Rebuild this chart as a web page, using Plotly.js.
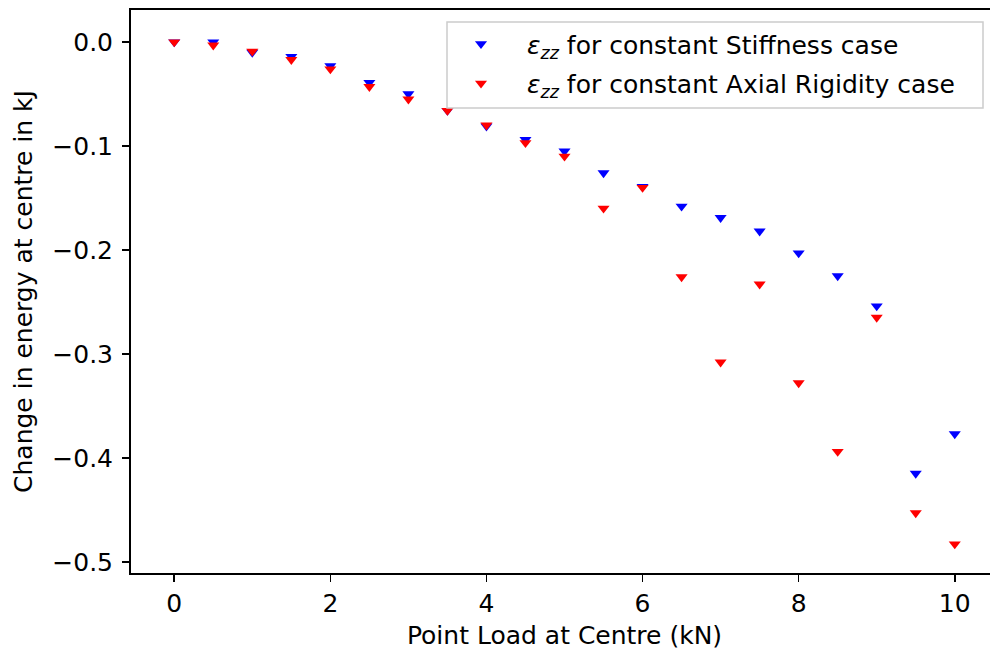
<!DOCTYPE html>
<html>
<head>
<meta charset="utf-8">
<script src="https://cdn.plot.ly/plotly-3.0.1.min.js"></script>
<style>
html, body { margin: 0; padding: 0; overflow: hidden; background: #ffffff; }
#chart { width: 1000px; height: 655px; }
</style>
</head>
<body>
<div id="chart"></div>
<script>
// Point load at centre (kN)
var loadKN = [0, 0.5, 1, 1.5, 2, 2.5, 3, 3.5, 4, 4.5, 5, 5.5, 6, 6.5, 7, 7.5, 8, 8.5, 9, 9.5, 10];
// Change in energy (kJ), constant stiffness case
var stiffnessCase = [0.000, 0.000, -0.010, -0.014, -0.023, -0.039, -0.050, -0.066, -0.081, -0.094, -0.105,
                     -0.126, -0.139, -0.158, -0.169, -0.182, -0.203, -0.225, -0.254, -0.415, -0.377];
// Change in energy (kJ), constant axial rigidity case
var axialCase = [0.000, -0.003, -0.009, -0.017, -0.026, -0.043, -0.055, -0.066, -0.080, -0.097, -0.110,
                 -0.160, -0.140, -0.226, -0.308, -0.233, -0.328, -0.394, -0.265, -0.453, -0.483];

var seriesNames = [
  '<i>ε</i><sub><i>zz</i></sub> for constant Stiffness case',
  '<i>ε</i><sub><i>zz</i></sub> for constant Axial Rigidity case'
];

var FONT = 'DejaVu Sans, sans-serif';
var FS = 25;

// plot area in px: x 131..998, y 10..572.7
function px2x(p) { return (p - 131) / 867; }
function py2y(p) { return 1 - (p - 10) / 562.7; }

var traces = [
  {
    x: loadKN, y: stiffnessCase, type: 'scatter', mode: 'markers',
    name: seriesNames[0], legendgroup: 'a',
    marker: { symbol: 'triangle-down', size: 10.5, color: '#0000ff', line: { width: 0 } }
  },
  {
    x: loadKN, y: axialCase, type: 'scatter', mode: 'markers',
    name: seriesNames[1], legendgroup: 'b',
    marker: { symbol: 'triangle-down', size: 10.5, color: '#ff0000', line: { width: 0 } }
  }
];

var layout = {
  width: 1000, height: 655,
  margin: { l: 131, r: 2, t: 10, b: 82.3, pad: 0 },
  paper_bgcolor: '#ffffff', plot_bgcolor: '#ffffff',
  font: { family: FONT, size: FS, color: '#000000' },
  showlegend: true,
  legend: {
    x: px2x(435), y: py2y(21), xanchor: 'left', yanchor: 'top',
    bgcolor: 'rgba(0,0,0,0)', borderwidth: 0,
    itemwidth: 82,
    font: { family: FONT, size: FS, color: '#000000' },
    traceorder: 'grouped', tracegroupgap: 4
  },
  shapes: [
    {
      type: 'rect', xref: 'paper', yref: 'paper', layer: 'above',
      x0: px2x(447), x1: px2x(983), y0: py2y(108), y1: py2y(22),
      fillcolor: 'rgba(255,255,255,0.8)',
      line: { color: '#cccccc', width: 1.5 }
    }
  ],
  xaxis: {
    range: [-0.554, 10.554], dtick: 2, tick0: 0,
    showgrid: false, zeroline: false,
    showline: true, linecolor: '#000000', linewidth: 1.67, mirror: true,
    ticks: 'outside', ticklen: 7.3, tickwidth: 1.67, tickcolor: '#000000',
    tickfont: { family: FONT, size: FS, color: '#000000' },
    title: { text: 'Point Load at Centre (kN)', font: { family: FONT, size: FS, color: '#000000' }, standoff: 9 }
  },
  yaxis: {
    range: [-0.5108, 0.0308], dtick: 0.1, tick0: 0, tickformat: '.1f',
    showgrid: false, zeroline: false,
    showline: true, linecolor: '#000000', linewidth: 1.67, mirror: true,
    ticks: 'outside', ticklen: 7.3, tickwidth: 1.67, tickcolor: '#000000',
    ticklabelstandoff: 4,
    tickfont: { family: FONT, size: FS, color: '#000000' },
    title: { text: 'Change in energy at centre in kJ', font: { family: FONT, size: FS, color: '#000000' }, standoff: 12 }
  }
};

Plotly.newPlot('chart', traces, layout, { displayModeBar: false, staticPlot: true });
</script>
</body>
</html>
